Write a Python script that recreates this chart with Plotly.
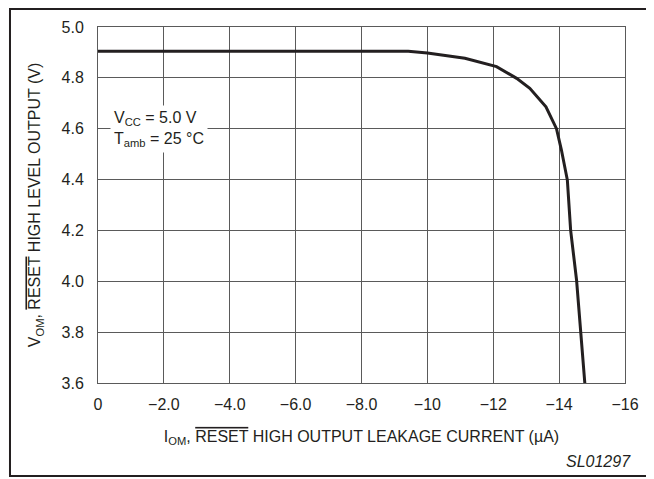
import plotly.graph_objects as go

current_uA = [0, -2, -4, -6, -8, -9.42, -10.0, -11.14, -12.10, -12.71, -13.11, -13.60, -13.92, -14.07, -14.25, -14.35, -14.53, -14.65, -14.78]
vout_V = [4.905, 4.905, 4.905, 4.905, 4.905, 4.905, 4.898, 4.877, 4.844, 4.798, 4.759, 4.686, 4.600, 4.516, 4.398, 4.200, 4.004, 3.814, 3.600]

x_tickvals = [0, -2, -4, -6, -8, -10, -12, -14, -16]
x_ticktext = ["0", "\u22122.0", "\u22124.0", "\u22126.0", "\u22128.0", "\u221210", "\u221212", "\u221214", "\u221216"]
y_tickvals = [3.6, 3.8, 4.0, 4.2, 4.4, 4.6, 4.8, 5.0]
y_ticktext = ["3.6", "3.8", "4.0", "4.2", "4.4", "4.6", "4.8", "5.0"]

FONT = "Liberation Sans, Arial, sans-serif"
OL = '<span style="text-decoration:overline">RESET</span>'

fig = go.Figure()
fig.add_trace(go.Scatter(x=current_uA, y=vout_V, mode="lines",
                         line=dict(color="#231f20", width=3), showlegend=False,
                         hoverinfo="skip"))

fig.update_layout(
    width=646, height=471,
    margin=dict(l=90, r=29, t=19, b=96),
    paper_bgcolor="white", plot_bgcolor="white",
    font=dict(family=FONT, size=16, color="#231f20"),
    xaxis=dict(range=[0, -16], tickvals=x_tickvals, ticktext=x_ticktext,
               showgrid=True, gridcolor="#5a5a5a", gridwidth=1,
               showline=True, linecolor="#5a5a5a", linewidth=1, mirror=True,
               ticks="", ticklabelstandoff=7, zeroline=False,
               title=dict(text="I<sub>OM</sub>, " + OL + " HIGH OUTPUT LEAKAGE CURRENT (\u00b5A)",
                          standoff=18, font=dict(size=16))),
    yaxis=dict(range=[3.6, 5.0], tickvals=y_tickvals, ticktext=y_ticktext,
               showgrid=True, gridcolor="#5a5a5a", gridwidth=1,
               showline=True, linecolor="#5a5a5a", linewidth=1, mirror=True,
               ticks="", ticklabelstandoff=10, zeroline=False,
               title=dict(text="V<sub>OM</sub>, " + OL + " HIGH LEVEL OUTPUT (V)",
                          standoff=16, font=dict(size=16))),
    shapes=[dict(type="rect", xref="paper", yref="paper",
                 x0=-0.167, x1=1.0436, y0=-0.261, y1=1.0506,
                 line=dict(color="#231f20", width=2), fillcolor="rgba(0,0,0,0)",
                 layer="above")],
    annotations=[
        dict(xref="paper", yref="paper", x=0.022, y=0.78, xanchor="left", yanchor="top",
             text="V<sub>CC</sub> = 5.0 V<br>T<sub>amb</sub> = 25 \u00b0C",
             showarrow=False, align="left", bgcolor="white", borderpad=3,
             font=dict(size=16)),
        dict(xref="paper", yref="paper", x=1.015, y=-0.25, xanchor="right", yanchor="bottom",
             text="<i>SL01297</i>", showarrow=False, font=dict(size=16)),
    ],
)

fig.write_html("out.html")
